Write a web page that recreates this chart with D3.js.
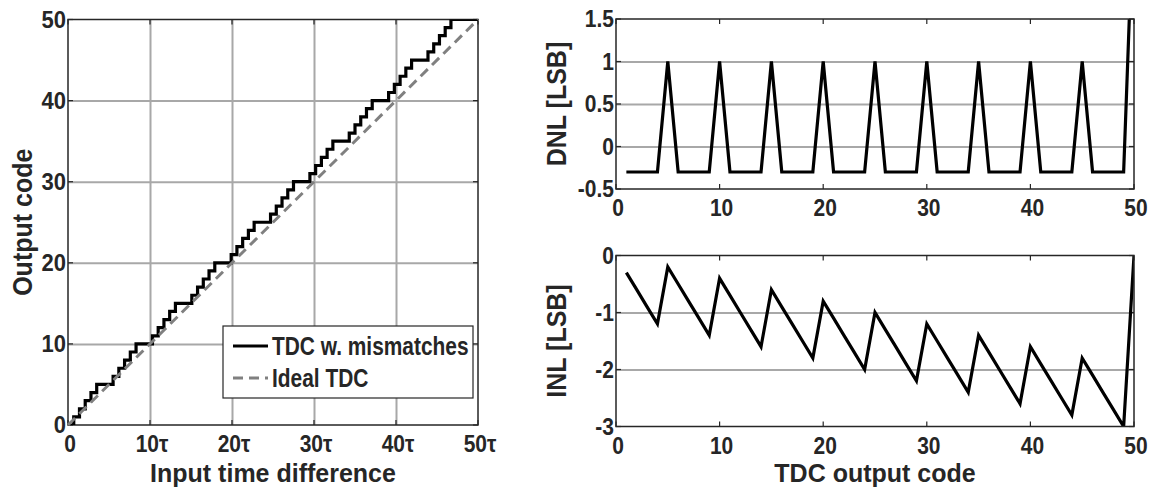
<!DOCTYPE html>
<html>
<head>
<meta charset="utf-8">
<script src="https://cdn.jsdelivr.net/npm/d3@7/dist/d3.min.js"></script>
<style>
  body { margin: 0; background: #fff; }
  svg text {
    font-family: 'Liberation Sans', Arial, sans-serif;
    font-weight: bold;
    fill: #262626;
  }
</style>
</head>
<body>
<div id="tdc-chart"></div>
<script>
// output codes 1..50
var codes = [1, 2, 3, 4, 5, 6, 7, 8, 9, 10, 11, 12, 13, 14, 15, 16, 17, 18, 19, 20,
  21, 22, 23, 24, 25, 26, 27, 28, 29, 30, 31, 32, 33, 34, 35, 36, 37, 38, 39, 40,
  41, 42, 43, 44, 45, 46, 47, 48, 49, 50]

// input time (in tau) where each output code starts
var stepStart = [0.7, 1.4, 2.1, 2.8, 3.5, 5.5, 6.2, 6.9, 7.6, 8.3,
  10.3, 11.0, 11.7, 12.4, 13.1, 15.1, 15.8, 16.5, 17.2, 17.9,
  19.9, 20.6, 21.3, 22.0, 22.7, 24.7, 25.4, 26.1, 26.8, 27.5,
  29.5, 30.2, 30.9, 31.6, 32.3, 34.3, 35.0, 35.7, 36.4, 37.1,
  39.1, 39.8, 40.5, 41.2, 41.9, 43.9, 44.6, 45.3, 46.0, 46.7]

var dnl = [-0.3, -0.3, -0.3, -0.3, 1, -0.3, -0.3, -0.3, -0.3, 1,
  -0.3, -0.3, -0.3, -0.3, 1, -0.3, -0.3, -0.3, -0.3, 1,
  -0.3, -0.3, -0.3, -0.3, 1, -0.3, -0.3, -0.3, -0.3, 1,
  -0.3, -0.3, -0.3, -0.3, 1, -0.3, -0.3, -0.3, -0.3, 1,
  -0.3, -0.3, -0.3, -0.3, 1, -0.3, -0.3, -0.3, -0.3, 3]

var inl = [-0.3, -0.6, -0.9, -1.2, -0.2, -0.5, -0.8, -1.1, -1.4, -0.4,
  -0.7, -1.0, -1.3, -1.6, -0.6, -0.9, -1.2, -1.5, -1.8, -0.8,
  -1.1, -1.4, -1.7, -2.0, -1.0, -1.3, -1.6, -1.9, -2.2, -1.2,
  -1.5, -1.8, -2.1, -2.4, -1.4, -1.7, -2.0, -2.3, -2.6, -1.6,
  -1.9, -2.2, -2.5, -2.8, -1.8, -2.1, -2.4, -2.7, -3.0, 0]

var timeTicks = [0, 10, 20, 30, 40, 50]
var timeLabels = ['0', '10τ', '20τ', '30τ', '40τ', '50τ']
var codeTicks = [0, 10, 20, 30, 40, 50]
var dnlTicks = [-0.5, 0, 0.5, 1, 1.5]
var inlTicks = [-3, -2, -1, 0]
var legendLabels = ['TDC w. mismatches', 'Ideal TDC']

var width = 1154
var height = 489
var axisColor = '#262626'
var gridColor = '#a8a8a8'

var svg = d3
  .select('#tdc-chart')
  .append('svg')
  .attr('width', width)
  .attr('height', height)

// text that is a bit taller than the font (the figure's font is a narrow one)
function label(g, x, y, size, txt, anchor, rot, sy) {
  return g.append('text')
    .attr('transform', 'translate(' + x + ',' + y + ')' + (rot ? ' rotate(-90)' : '') + ' scale(1,' + (sy || 1.1) + ')')
    .attr('text-anchor', anchor || 'start')
    .attr('font-size', size)
    .text(txt)
}

// draws grid, ticks and tick labels for one panel
function drawPanel(id, x, y, o) {
  var g = svg.append('g').attr('class', id)
  var x0 = x.range()[0], x1 = x.range()[1]
  var y0 = y.range()[0], y1 = y.range()[1]

  g.append('clipPath')
    .attr('id', id + '-clip')
    .append('rect')
    .attr('x', x0).attr('y', y1)
    .attr('width', x1 - x0).attr('height', y0 - y1)

  // grid
  if (o.xGrid) {
    g.append('g')
      .attr('transform', 'translate(0,' + y0 + ')')
      .call(d3.axisBottom(x).tickValues(o.xTicks.filter(d => d > x.domain()[0] && d < x.domain()[1]))
        .tickSize(-(y0 - y1)).tickFormat(''))
      .call(a => a.select('.domain').remove())
      .selectAll('line').attr('stroke', gridColor).attr('stroke-width', 2)
  }
  g.append('g')
    .attr('transform', 'translate(' + x0 + ',0)')
    .call(d3.axisLeft(y).tickValues(o.yTicks.filter(d => d > y.domain()[0] && d < y.domain()[1]))
      .tickSize(-(x1 - x0)).tickFormat(''))
    .call(a => a.select('.domain').remove())
    .selectAll('line').attr('stroke', gridColor).attr('stroke-width', 2)

  // inward ticks on all four sides
  var tk = 5
  o.xTicks.forEach(d => {
    g.append('line').attr('x1', x(d)).attr('x2', x(d)).attr('y1', y0).attr('y2', y0 - tk)
      .attr('stroke', axisColor).attr('stroke-width', 1.2)
    g.append('line').attr('x1', x(d)).attr('x2', x(d)).attr('y1', y1).attr('y2', y1 + tk)
      .attr('stroke', axisColor).attr('stroke-width', 1.2)
  })
  o.yTicks.forEach(d => {
    g.append('line').attr('x1', x0).attr('x2', x0 + tk).attr('y1', y(d)).attr('y2', y(d))
      .attr('stroke', axisColor).attr('stroke-width', 1.2)
    g.append('line').attr('x1', x1).attr('x2', x1 - tk).attr('y1', y(d)).attr('y2', y(d))
      .attr('stroke', axisColor).attr('stroke-width', 1.2)
  })

  // tick labels
  o.xTicks.forEach((d, i) => {
    label(g, x(d) + 2, y0 + 27, o.tickSize, o.xLabels ? o.xLabels[i] : String(d), 'middle')
  })
  o.yTicks.forEach(d => {
    label(g, x0 - 2, y(d) + 8, o.yTickSize || o.tickSize, String(d), 'end')
  })

  // axis labels
  label(g, o.yLabelX, (y0 + y1) / 2, 25, o.yLabel, 'middle', true)
  if (o.xLabel) label(g, (x0 + x1) / 2, 482, 25, o.xLabel, 'middle', false, 1.04)
  return g
}

function drawBox(g, x, y) {
  g.append('rect')
    .attr('x', x.range()[0]).attr('y', y.range()[1])
    .attr('width', x.range()[1] - x.range()[0])
    .attr('height', y.range()[0] - y.range()[1])
    .attr('fill', 'none')
    .attr('stroke', axisColor)
    .attr('stroke-width', 1.5)
}

// left panel: transfer curve
var xT = d3.scaleLinear().domain([0, 50]).range([68, 478])
var yC = d3.scaleLinear().domain([0, 50]).range([425, 19.5])
var leftPanel = drawPanel('transfer', xT, yC, {
  xTicks: timeTicks, xLabels: timeLabels, yTicks: codeTicks,
  xGrid: true, tickSize: 21, yTickSize: 22,
  yLabel: 'Output code', yLabelX: 32, xLabel: 'Input time difference'
})
drawBox(leftPanel, xT, yC)

var stairPts = [[0, 0]].concat(codes.map((c, i) => [stepStart[i], c]), [[50, 50]])
leftPanel.append('path')
  .datum(stairPts)
  .attr('clip-path', 'url(#transfer-clip)')
  .attr('fill', 'none')
  .attr('stroke', '#000')
  .attr('stroke-width', 3.2)
  .attr('d', d3.line().x(d => xT(d[0])).y(d => yC(d[1])).curve(d3.curveStepAfter))

leftPanel.append('path')
  .datum([[0, 0], [50, 50]])
  .attr('fill', 'none')
  .attr('stroke', '#808080')
  .attr('stroke-width', 3)
  .attr('stroke-dasharray', '10,6')
  .attr('d', d3.line().x(d => xT(d[0])).y(d => yC(d[1])))

// legend
var lg = leftPanel.append('g')
lg.append('rect')
  .attr('x', 223).attr('y', 326).attr('width', 250).attr('height', 72)
  .attr('fill', '#fff').attr('stroke', axisColor).attr('stroke-width', 1.2)
legendLabels.forEach((t, i) => {
  var ly = 346 + i * 32
  lg.append('line')
    .attr('x1', 233).attr('x2', 268).attr('y1', ly).attr('y2', ly)
    .attr('stroke', i === 0 ? '#000' : '#808080')
    .attr('stroke-width', 3)
    .attr('stroke-dasharray', i === 0 ? null : '10,6')
  lg.append('text')
    .attr('transform', 'translate(272,' + (ly + 9) + ') scale(0.95,1.15)')
    .attr('font-size', 22)
    .text(t)
})

// right top: DNL
var xR = d3.scaleLinear().domain([0, 50]).range([616, 1134])
var yD = d3.scaleLinear().domain([-0.5, 1.5]).range([189, 19])
var dnlPanel = drawPanel('dnl', xR, yD, {
  xTicks: codeTicks, yTicks: dnlTicks, tickSize: 21,
  yLabel: 'DNL [LSB]', yLabelX: 566
})
dnlPanel.append('path')
  .datum(dnl)
  .attr('clip-path', 'url(#dnl-clip)')
  .attr('fill', 'none')
  .attr('stroke', '#000')
  .attr('stroke-width', 3.2)
  .attr('d', d3.line().x((d, i) => xR(codes[i])).y(d => yD(d)))
drawBox(dnlPanel, xR, yD)

// right bottom: INL
var yI = d3.scaleLinear().domain([-3, 0]).range([426.5, 255.5])
var inlPanel = drawPanel('inl', xR, yI, {
  xTicks: codeTicks, yTicks: inlTicks, tickSize: 21,
  yLabel: 'INL [LSB]', yLabelX: 566, xLabel: 'TDC output code'
})
inlPanel.append('path')
  .datum(inl)
  .attr('clip-path', 'url(#inl-clip)')
  .attr('fill', 'none')
  .attr('stroke', '#000')
  .attr('stroke-width', 3.2)
  .attr('d', d3.line().x((d, i) => xR(codes[i])).y(d => yI(d)))
drawBox(inlPanel, xR, yI)
</script>
</body>
</html>
